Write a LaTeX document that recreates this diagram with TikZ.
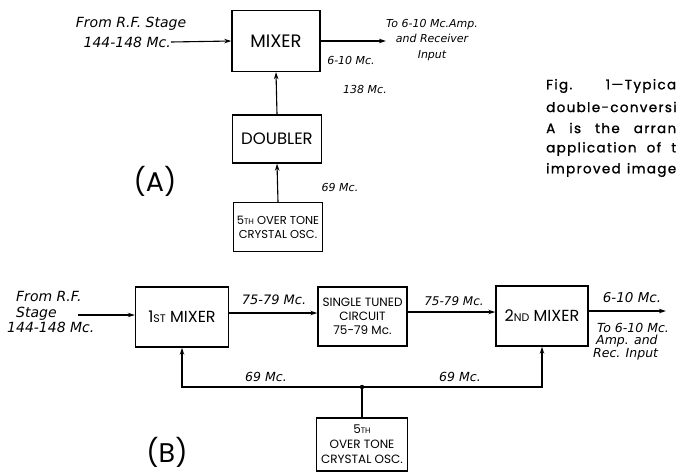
\documentclass[tikz,border=0pt]{standalone}
\usepackage{fontspec}
\setmainfont{Poppins}
\newfontfamily\labfont{DejaVu Sans}
\newfontfamily\capfont[LetterSpace=10,FakeBold=1.2]{Poppins}
\usetikzlibrary{arrows.meta}
\newcommand\lowcap[2]{{\fontsize{#1}{#1}\selectfont #2}}
\newcommand\labsize[1]{\labfont\itshape\fontsize{#1}{#1}\selectfont}
\tikzset{
  blkbox/.style={draw, line width=1.4pt, inner sep=1pt, align=center},
  lab/.style={font=\labsize{12}, inner sep=0pt, align=center},
  arr/.style={line width=1.1pt, -{Stealth[length=7pt,width=4.5pt]}},
  wire/.style={line width=1.1pt},
  captxt/.style={font=\capfont\fontsize{13.5}{15}\selectfont, inner sep=0pt, anchor=west},
  part/.style={font=\fontsize{27}{29}\selectfont, inner sep=0pt}
}
\begin{document}
\begin{tikzpicture}[x=1pt,y=-1pt]
\useasboundingbox (0,0) rectangle (678,472);
% ---------- (A) ----------
\node[blkbox, font=\fontsize{18}{20}\selectfont, minimum width=88pt, minimum height=61pt] (mixA) at (276,41) {MIXER};
\node[blkbox, font=\fontsize{16.5}{18}\selectfont, minimum width=89pt, minimum height=48pt] (dblA) at (277,139) {DOUBLER};
\node[blkbox, font=\fontsize{11.5}{14}\selectfont, minimum width=89pt, minimum height=49pt] (oscA) at (278,227) {5\lowcap{8}{TH} OVER TONE\\CRYSTAL OSC.};
\node[lab, font=\labsize{14}] (fromA) at (131,24) {From R.F. Stage};
\node[lab, font=\labsize{14}, anchor=east] (inA) at (171,42) {144-148 Mc.};
\coordinate (outA) at (386,41);
\draw[arr] (inA.east) -- (mixA.west);
\draw[arr] (mixA.east) -- (outA);
\node[lab, font=\labsize{11}, align=center] (toA) at (432,40) {To 6-10 Mc.Amp.\\[4.5pt]and Receiver\\[4.5pt]Input};
\node[lab, font=\labsize{11}] (fA) at (351,60) {6-10 Mc.};
\draw[arr] (dblA.north) -- (mixA.south);
\node[lab, font=\labsize{11}] (f138) at (365,89) {138 Mc.};
\draw[arr] (oscA.north) -- (dblA.north |- dblA.south);
\node[lab, font=\labsize{11}] (f69A) at (340,187) {69 Mc.};
\node[part] (pA) at (155,181) {(A)};
% ---------- caption ----------
\node[captxt] (c1) at (546,86) {\makebox[130pt][s]{Fig. 1—Typica}};
\node[captxt] (c2) at (546,107) {double-conversi};
\node[captxt] (c3) at (546,128) {\makebox[130pt][s]{A is the arran}};
\node[captxt] (c4) at (546,149) {\makebox[130pt][s]{application of t}};
\node[captxt] (c5) at (546,170) {\makebox[130pt][s]{improved image}};
% ---------- (B) ----------
\node[blkbox, font=\fontsize{16}{18}\selectfont, minimum width=93pt, minimum height=60pt] (mix1) at (182,317) {1\lowcap{11}{ST} MIXER};
\node[blkbox, font=\fontsize{12}{14}\selectfont, minimum width=89pt, minimum height=59pt] (stc) at (362.5,316.5) {SINGLE TUNED\\CIRCUIT\\75-79 Mc.};
\node[blkbox, font=\fontsize{16}{18}\selectfont, minimum width=92pt, minimum height=60pt] (mix2) at (542,316) {2\lowcap{11}{ND} MIXER};
\node[blkbox, font=\fontsize{12}{15}\selectfont, minimum width=91pt, minimum height=53pt] (oscB) at (362,444.5) {5\lowcap{8}{TH}\\OVER TONE\\CRYSTAL OSC.};
\node[lab, align=left, anchor=west, font=\labfont\itshape\fontsize{14}{15.5}\selectfont] (fromB) at (7,312) {\hspace*{9pt}From R.F.\\\hspace*{9pt}Stage\\144-148 Mc.};
\coordinate (inB) at (78,315);
\draw[arr] (inB) -- (mix1.west |- inB);
\draw[arr] (mix1.east |- 0,313) -- (stc.west |- 0,313);
\node[lab, font=\labsize{13}] (f1) at (274,300) {75-79 Mc.};
\draw[arr] (stc.east |- 0,312) -- (mix2.west |- 0,312);
\node[lab, font=\labsize{12}] (f2) at (454,301) {75-79 Mc.};
\coordinate (outB) at (666,311);
\draw[arr] (mix2.east |- outB) -- (outB);
\node[lab, font=\labsize{13.5}] (f3) at (632,298) {6-10 Mc.};
\node[lab, align=left, anchor=north west, font=\labfont\itshape\fontsize{12.5}{12.5}\selectfont] (toB) at (593,323) {\hspace*{4pt}To 6-10 Mc.\\\hspace*{3pt}Amp. and\\Rec. Input};
\coordinate (jn) at (362,387);
\draw[wire] (oscB.north) -- (jn);
\draw[arr] (jn) -| (mix1.south);
\draw[arr] (jn) -| (mix2.south);
\fill (jn) circle (2.2pt);
\node[lab, font=\labsize{12.5}] (f69L) at (266,377) {69 Mc.};
\node[lab, font=\labsize{12.5}] (f69R) at (460,377) {69 Mc.};
\node[part] (pB) at (167,452) {(B)};
\end{tikzpicture}
\end{document}
